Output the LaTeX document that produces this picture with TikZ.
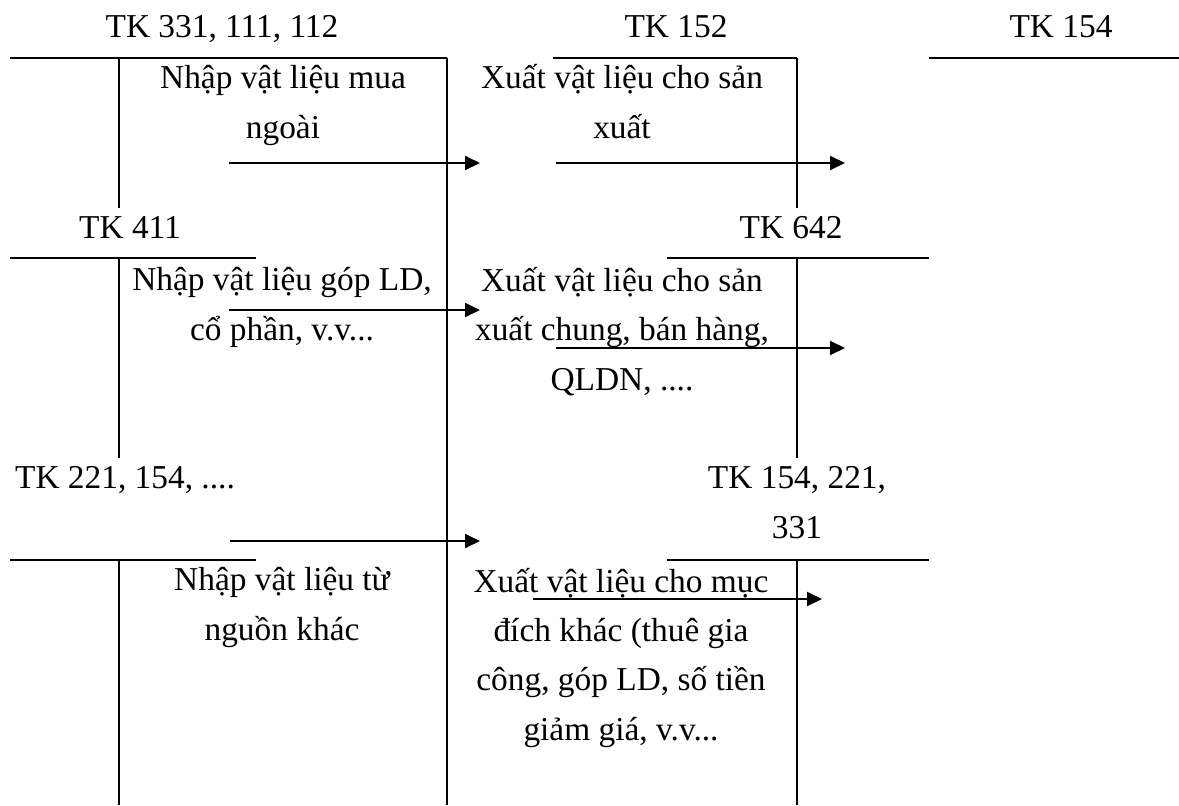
\documentclass[tikz,border=0pt]{standalone}
\usepackage{fontspec}
\setmainfont{Liberation Serif}
\usetikzlibrary{arrows.meta}

\begin{document}
\begin{tikzpicture}[x=0.02cm, y=-0.02cm,
    txt/.style={font=\fontsize{19pt}{27.9pt}\selectfont, inner sep=0pt, anchor=base, align=center},
    tline/.style={line width=1.1pt},
    flow/.style={line width=1.1pt, -{Triangle[length=0.3cm, width=0.28cm]}}]
    \useasboundingbox (0,0) rectangle (1179,805);

    % ==========================================
    % Account names (base = baseline of last line)
    % ==========================================
    \node[txt] (tk331) at (222,37) {TK 331, 111, 112};
    \node[txt] (tk152) at (676,37) {TK 152};
    \node[txt] (tk154) at (1061,37) {TK 154};
    \node[txt] (tk411) at (130,238) {TK 411};
    \node[txt] (tk642) at (791,238) {TK 642};
    \node[txt] (tk221) at (125,488) {TK 221, 154, ....};
    \node[txt] (tkkhac) at (797,538) {TK 154, 221,\\331};

    % ==========================================
    % T-accounts
    % ==========================================
    % TK 331, 111, 112 (right side runs all the way down)
    \draw[tline] (10,58) -- (447,58);
    \draw[tline] (119,58) -- (119,208);
    \draw[tline] (447,58) -- (447,805);
    % TK 152
    \draw[tline] (553,58) -- (797,58);
    \draw[tline] (797,58) -- (797,208);
    % TK 154
    \draw[tline] (929,58) -- (1179,58);
    % TK 411
    \draw[tline] (10,258) -- (256,258);
    \draw[tline] (119,258) -- (119,458);
    % TK 642
    \draw[tline] (667,258) -- (929,258);
    \draw[tline] (797,258) -- (797,458);
    % TK 221, 154
    \draw[tline] (10,560) -- (256,560);
    \draw[tline] (119,560) -- (119,805);
    % TK 154, 221, 331
    \draw[tline] (667,560) -- (929,560);
    \draw[tline] (797,560) -- (797,805);

    % ==========================================
    % Entries
    % ==========================================
    \node[txt] (nhapmua) at (283,138) {Nhập vật liệu mua\\ngoài};
    \node[txt] (xuatsx) at (622,138) {Xuất vật liệu cho sản\\xuất};
    \node[txt] (nhapgop) at (282,340) {Nhập vật liệu góp LD,\\cổ phần, v.v...};
    \node[txt] (xuatchung) at (622,390) {Xuất vật liệu cho sản\\xuất chung, bán hàng,\\QLDN, ....};
    \node[txt] (nhapkhac) at (282,640) {Nhập vật liệu từ\\nguồn khác};
    \node[txt] (xuatkhac) at (621,740) {Xuất vật liệu cho mục\\đích khác (thuê gia\\công, góp LD, số tiền\\giảm giá, v.v...};

    % ==========================================
    % Flows into and out of TK 152
    % ==========================================
    \coordinate (in1) at (229,163);   \coordinate (in1e) at (480,163);
    \coordinate (out1) at (556,163);  \coordinate (out1e) at (845,163);
    \coordinate (in2) at (229,310);   \coordinate (in2e) at (480,310);
    \coordinate (out2) at (556,348);  \coordinate (out2e) at (845,348);
    \coordinate (in3) at (230,541);   \coordinate (in3e) at (480,541);
    \coordinate (out3) at (533,599);  \coordinate (out3e) at (822,599);

    \draw[flow] (in1) -- (in1e);
    \draw[flow] (out1) -- (out1e);
    \draw[flow] (in2) -- (in2e);
    \draw[flow] (out2) -- (out2e);
    \draw[flow] (in3) -- (in3e);
    \draw[flow] (out3) -- (out3e);
\end{tikzpicture}
\end{document}
